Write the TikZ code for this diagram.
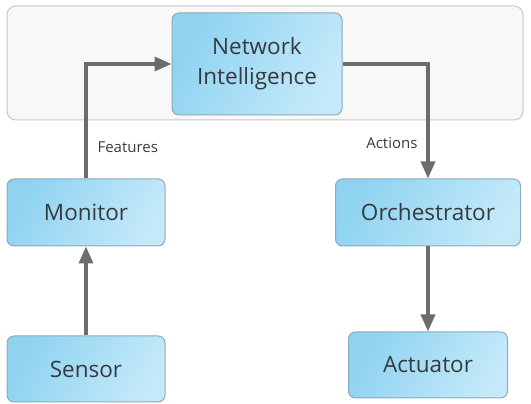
\documentclass[tikz,border=0pt]{standalone}
\usepackage{fontspec}
\setmainfont{Open Sans}
\usetikzlibrary{arrows.meta}
\definecolor{boxdark}{RGB}{143,211,241}
\definecolor{boxlight}{RGB}{196,233,249}
\definecolor{boxline}{RGB}{140,170,188}
\definecolor{arrowgray}{RGB}{108,108,108}
\definecolor{panelgray}{RGB}{248,248,247}
\definecolor{panelline}{RGB}{200,200,200}
\definecolor{textgray}{RGB}{54,58,64}

\begin{document}
\begin{tikzpicture}[x=1pt, y=1pt, font=\fontsize{22.5}{30}\selectfont, text=textgray,
    block/.style={draw=boxline, line width=1pt, rounded corners=7pt, align=center,
        left color=boxdark, right color=boxlight, shading angle=60, inner sep=0pt},
    flow/.style={draw=arrowgray, line width=3.4pt, -{Triangle[length=17pt, width=14pt]}},
    tag/.style={font=\fontsize{15}{18}\selectfont}]

    % page size, same as the reference
    \useasboundingbox (0,0) rectangle (531,404);

    % light panel round the top block
    \draw[panelline, fill=panelgray, line width=1pt, rounded corners=9pt] (7,284) rectangle (523,398);

    % the five blocks
    \node[block, minimum width=170pt, minimum height=102pt] (ni) at (257,340) {Network\\Intelligence};
    \node[block, minimum width=158pt, minimum height=67pt] (monitor) at (86,191.5) {Monitor};
    \node[block, minimum width=185pt, minimum height=67pt] (orch) at (428,191.5) {Orchestrator};
    \node[block, minimum width=158pt, minimum height=66pt] (sensor) at (86,35) {Sensor};
    \node[block, minimum width=159pt, minimum height=66pt] (act) at (428,39) {Actuator};

    % connectors
    \draw[flow] (sensor) -- (monitor);
    \draw[flow] (monitor.north) |- (ni.west);
    \draw[flow] (ni.east) -| (orch.north);
    \draw[flow] (orch) -- (act);

    % labels next to the connectors
    \node[tag, anchor=west] (features) at (94,257) {Features};
    \node[tag, anchor=east] (actions) at (421,261) {Actions};
\end{tikzpicture}
\end{document}
